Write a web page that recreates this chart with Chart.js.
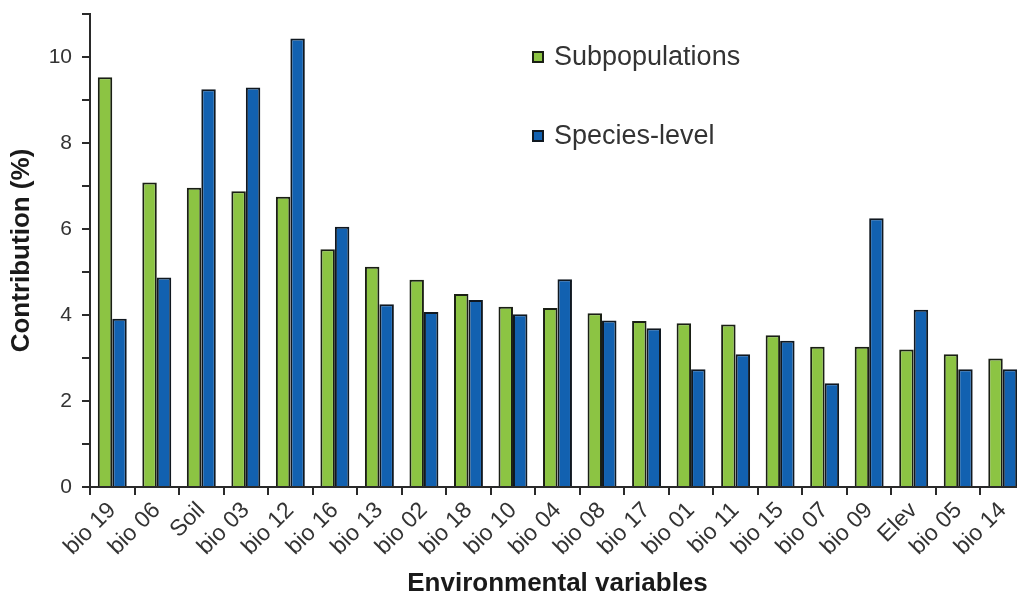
<!DOCTYPE html>
<html>
<head>
<meta charset="utf-8">
<script src="https://cdn.jsdelivr.net/npm/chart.js@4.4.1/dist/chart.umd.min.js"></script>
<style>
  html, body { margin: 0; padding: 0; background: #fff; overflow: hidden; }
  #wrap { position: absolute; left: 0; top: 0; width: 1030px; height: 600px; }
</style>
</head>
<body>
<div id="wrap"><canvas id="chart"></canvas></div>
<script>
const variables = ['bio 19', 'bio 06', 'Soil', 'bio 03', 'bio 12', 'bio 16', 'bio 13', 'bio 02', 'bio 18', 'bio 10', 'bio 04',
    'bio 08', 'bio 17', 'bio 01', 'bio 11', 'bio 15', 'bio 07', 'bio 09', 'Elev', 'bio 05', 'bio 14'];
const subpopulations = [9.53, 7.08, 6.96, 6.88, 6.75, 5.53, 5.12, 4.82, 4.49, 4.19, 4.16,
    4.04, 3.86, 3.81, 3.78, 3.53, 3.26, 3.26, 3.20, 3.09, 2.99];
const speciesLevel = [3.91, 4.87, 9.25, 9.29, 10.43, 6.05, 4.25, 4.07, 4.35, 4.02, 4.83,
    3.87, 3.69, 2.74, 3.09, 3.40, 2.41, 6.25, 4.12, 2.74, 2.74];
const yTicks = [0, 2, 4, 6, 8, 10];

const textColor = '#333333';
const axisColor = '#2a2a2a';

// legend drawn by hand, stacked at the top middle of the plot
const legendPlugin = {
    id: 'sideLegend',
    afterDraw(chart) {
        const ctx = chart.ctx;
        ctx.save();
        ctx.font = '27px "Liberation Sans", Arial, sans-serif';
        ctx.textBaseline = 'middle';
        chart.data.datasets.forEach((ds, i) => {
            const y = 57 + i * 79;
            ctx.fillStyle = ds.backgroundColor;
            ctx.fillRect(533, y - 5, 10, 10);
            ctx.strokeStyle = ds.borderColor;
            ctx.lineWidth = 2;
            ctx.strokeRect(533, y - 5, 10, 10);
            ctx.fillStyle = textColor;
            ctx.fillText(ds.label, 554, y + 1);
        });
        ctx.restore();
    }
};

const ctx = document.getElementById('chart').getContext('2d');
new Chart(ctx, {
    type: 'bar',
    data: {
        labels: variables,
        datasets: [{
            label: 'Subpopulations',
            data: subpopulations,
            backgroundColor: '#8cc443',
            borderColor: '#1a1f14',
            borderWidth: 2
        }, {
            label: 'Species-level',
            data: speciesLevel,
            backgroundColor: '#1261b0',
            borderColor: '#101820',
            borderWidth: 2
        }]
    },
    options: {
        responsive: true,
        maintainAspectRatio: false,
        animation: false,
        layout: { padding: { left: 0, right: 5, top: 14, bottom: 0 } },
        datasets: { bar: { categoryPercentage: 0.65, barPercentage: 1.0 } },
        plugins: {
            legend: { display: false },
            tooltip: { enabled: false }
        },
        scales: {
            x: {
                afterFit: scale => { scale.height = 113; },
                grid: { offset: true, drawOnChartArea: false, drawTicks: true, tickLength: 8, color: axisColor, lineWidth: 2 },
                border: { color: axisColor, width: 2 },
                ticks: {
                    color: textColor,
                    font: { family: '"Liberation Sans", Arial, sans-serif', size: 23 },
                    minRotation: 45,
                    maxRotation: 45,
                    padding: 2,
                    autoSkip: false
                },
                title: {
                    display: true,
                    text: 'Environmental variables',
                    color: '#1a1a1a',
                    font: { family: '"Liberation Sans", Arial, sans-serif', size: 26, weight: 'bold' },
                    padding: { top: 4, bottom: 1 }
                }
            },
            y: {
                min: 0,
                max: 11,
                afterFit: scale => {
                    scale.width = 90;
                    scale.paddingTop = 0;
                    scale.paddingBottom = 0;
                },
                grid: { drawOnChartArea: false, drawTicks: true, tickLength: 8, color: axisColor, lineWidth: 2 },
                border: { color: axisColor, width: 2 },
                ticks: {
                    stepSize: 1,
                    color: textColor,
                    padding: 10,
                    font: { family: '"Liberation Sans", Arial, sans-serif', size: 21 },
                    callback: value => yTicks.includes(value) ? value : ''
                },
                title: {
                    display: true,
                    text: 'Contribution (%)',
                    color: '#1a1a1a',
                    font: { family: '"Liberation Sans", Arial, sans-serif', size: 26, weight: 'bold' },
                    padding: { top: 6, bottom: 4 }
                }
            }
        }
    },
    plugins: [legendPlugin]
});
</script>
</body>
</html>
